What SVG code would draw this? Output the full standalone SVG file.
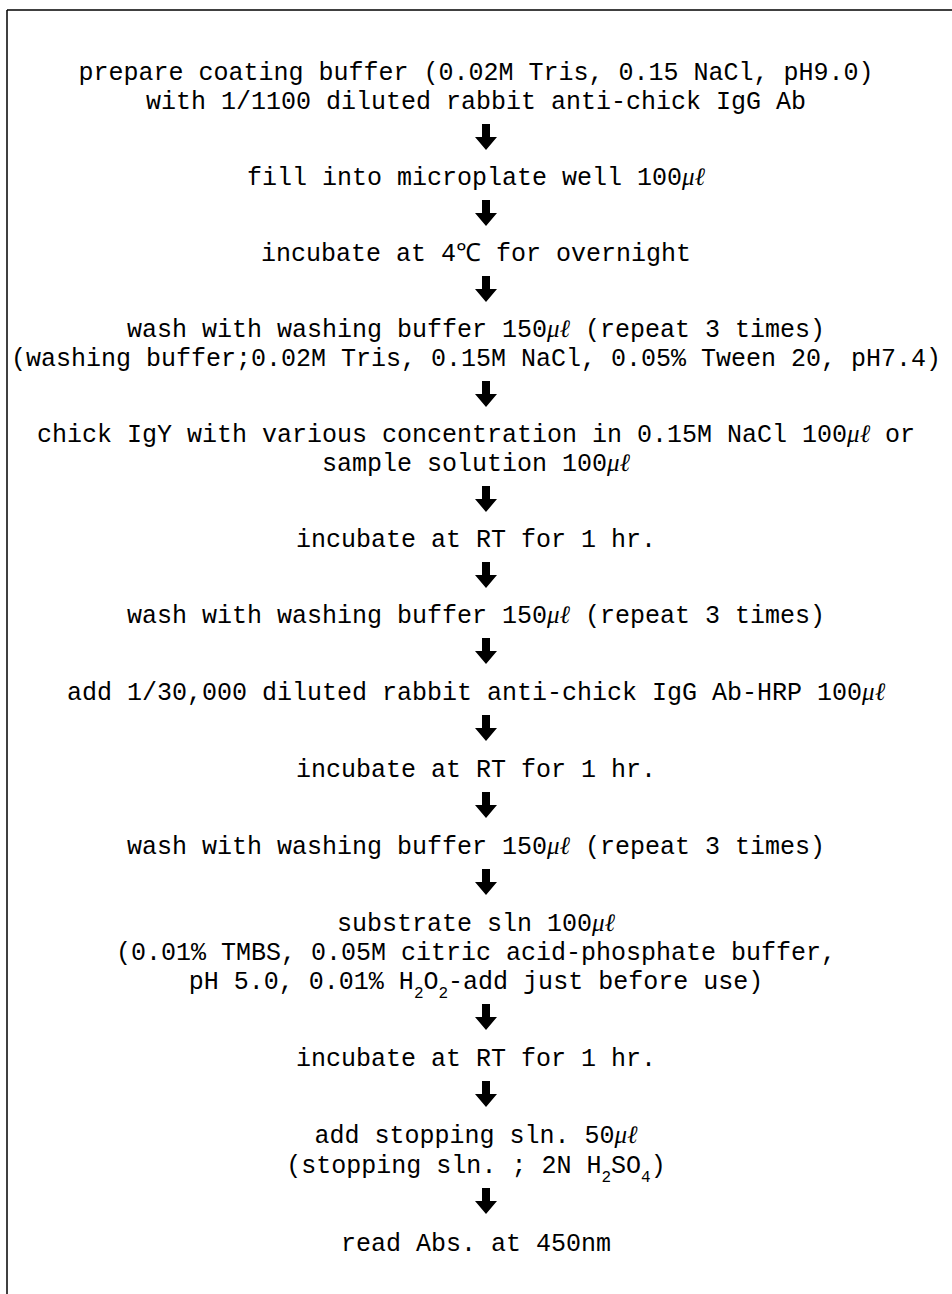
<svg xmlns="http://www.w3.org/2000/svg" width="952" height="1294" viewBox="0 0 952 1294">
<defs>
<style>
.t{font-family:"Liberation Mono","DejaVu Sans Mono",monospace;font-size:25px;fill:#000;text-anchor:middle}
.u{font-family:"Liberation Serif","DejaVu Serif",serif;font-style:italic}
.s{font-size:16px;baseline-shift:sub}
.a{fill:#000}
</style>
<symbol id="arr" viewBox="0 0 26 26" overflow="visible">
<path d="M9 0H17V13H24L13 26L2 13H9Z"/>
</symbol>
</defs>
<rect width="952" height="1294" fill="#fff"/>
<g id="frame" stroke="#000" stroke-width="1.5" fill="none">
<line x1="7" y1="10" x2="952" y2="10"/>
<line x1="7" y1="10" x2="7" y2="1294"/>
</g>
<g id="n1"><text class="t" x="476" y="80">prepare coating buffer (0.02M Tris, 0.15 NaCl, pH9.0)</text><text class="t" x="476" y="109">with 1/1100 diluted rabbit anti-chick IgG Ab</text></g>
<g id="n2"><text class="t" x="476" y="185">fill into microplate well 100<tspan class="u">μℓ</tspan></text></g>
<g id="n3"><text class="t" x="476" y="261">incubate at 4℃ for overnight</text></g>
<g id="n4"><text class="t" x="476" y="337">wash with washing buffer 150<tspan class="u">μℓ</tspan> (repeat 3 times)</text><text class="t" x="476" y="366">(washing buffer;0.02M Tris, 0.15M NaCl, 0.05% Tween 20, pH7.4)</text></g>
<g id="n5"><text class="t" x="476" y="442">chick IgY with various concentration in 0.15M NaCl 100<tspan class="u">μℓ</tspan> or</text><text class="t" x="476" y="471">sample solution 100<tspan class="u">μℓ</tspan></text></g>
<g id="n6"><text class="t" x="476" y="547">incubate at RT for 1 hr.</text></g>
<g id="n7"><text class="t" x="476" y="623">wash with washing buffer 150<tspan class="u">μℓ</tspan> (repeat 3 times)</text></g>
<g id="n8"><text class="t" x="476" y="700">add 1/30,000 diluted rabbit anti-chick IgG Ab-HRP 100<tspan class="u">μℓ</tspan></text></g>
<g id="n9"><text class="t" x="476" y="777">incubate at RT for 1 hr.</text></g>
<g id="n10"><text class="t" x="476" y="854">wash with washing buffer 150<tspan class="u">μℓ</tspan> (repeat 3 times)</text></g>
<g id="n11"><text class="t" x="476" y="931">substrate sln 100<tspan class="u">μℓ</tspan></text><text class="t" x="476" y="960">(0.01% TMBS, 0.05M citric acid-phosphate buffer,</text><text class="t" x="476" y="989">pH 5.0, 0.01% H<tspan class="s">2</tspan>O<tspan class="s">2</tspan>-add just before use)</text></g>
<g id="n12"><text class="t" x="476" y="1066">incubate at RT for 1 hr.</text></g>
<g id="n13"><text class="t" x="476" y="1143">add stopping sln. 50<tspan class="u">μℓ</tspan></text><text class="t" x="476" y="1173">(stopping sln. ; 2N H<tspan class="s">2</tspan>SO<tspan class="s">4</tspan>)</text></g>
<g id="n14"><text class="t" x="476" y="1251">read Abs. at 450nm</text></g>
<g id="connectors" class="a">
<use href="#arr" x="473" y="124" width="26" height="26"/>
<use href="#arr" x="473" y="200" width="26" height="26"/>
<use href="#arr" x="473" y="276" width="26" height="26"/>
<use href="#arr" x="473" y="381" width="26" height="26"/>
<use href="#arr" x="473" y="486" width="26" height="26"/>
<use href="#arr" x="473" y="562" width="26" height="26"/>
<use href="#arr" x="473" y="638" width="26" height="26"/>
<use href="#arr" x="473" y="715" width="26" height="26"/>
<use href="#arr" x="473" y="792" width="26" height="26"/>
<use href="#arr" x="473" y="869" width="26" height="26"/>
<use href="#arr" x="473" y="1004" width="26" height="26"/>
<use href="#arr" x="473" y="1081" width="26" height="26"/>
<use href="#arr" x="473" y="1188" width="26" height="26"/>
</g>
</svg>
